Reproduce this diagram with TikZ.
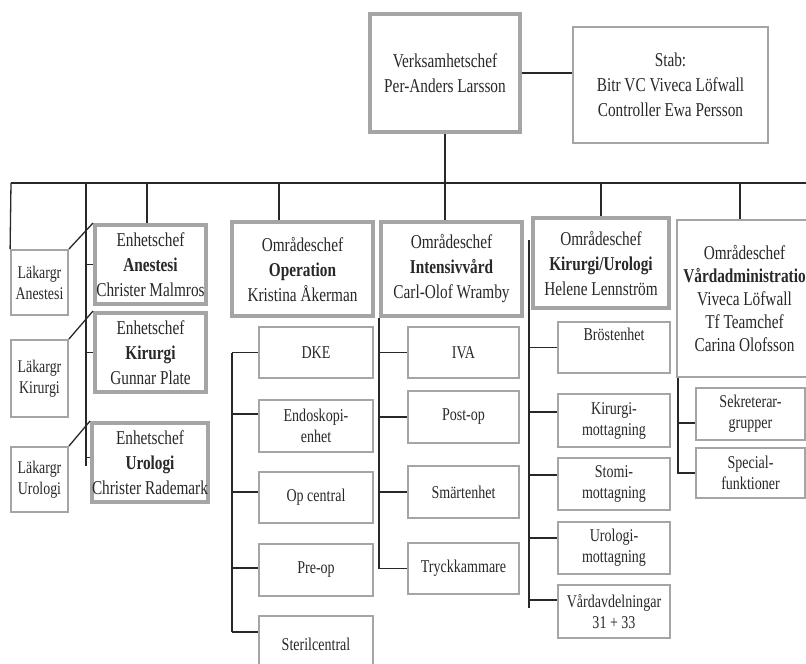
\documentclass[tikz,border=0pt]{standalone}
\usepackage{fontspec}
\setmainfont{Liberation Serif}[FakeStretch=0.78]
\definecolor{bordergray}{RGB}{165,165,165}
\definecolor{linecol}{RGB}{40,40,40}
\definecolor{txt}{RGB}{40,40,40}
\tikzset{
  base/.style={rectangle, inner sep=0pt, align=center, text=txt,
    font=\fontsize{19.6}{25}\selectfont},
  thickbox/.style={base, draw=bordergray, line width=4pt},
  thinbox/.style={base, draw=bordergray, line width=1.8pt},
  subbox/.style={thinbox, font=\fontsize{18}{21}\selectfont},
  lakbox/.style={thinbox, font=\fontsize{17.8}{21}\selectfont},
  link/.style={draw=linecol, line width=1.3pt},
}
\begin{document}
\begin{tikzpicture}[x=1pt,y=-1pt]
\useasboundingbox (0,0) rectangle (806,664);
\clip (0,0) rectangle (806,664);

% top management
\node[thickbox, minimum width=150pt, minimum height=118pt] (vc) at (445,73)
  {Verksamhetschef\\Per-Anders Larsson};
\node[thinbox, minimum width=195pt, minimum height=116pt] (stab) at (670.5,85)
  {Stab:\\Bitr VC Viveca Löfwall\\Controller Ewa Persson};

% unit heads (left)
\node[lakbox, minimum width=57pt, minimum height=65pt] (lakA) at (39.5,282.5) {Läkargr\\Anestesi};
\node[lakbox, minimum width=57pt, minimum height=77pt] (lakK) at (39.5,378.5) {Läkargr\\Kirurgi};
\node[lakbox, minimum width=57pt, minimum height=65pt] (lakU) at (39.5,479.5) {Läkargr\\Urologi};
\node[thickbox, minimum width=111pt, minimum height=79pt] (enA) at (150.5,264.5)
  {Enhetschef\\\textbf{Anestesi}\\Christer Malmros};
\node[thickbox, minimum width=111pt, minimum height=79pt] (enK) at (150.5,352.5)
  {Enhetschef\\\textbf{Kirurgi}\\Gunnar Plate};
\node[thickbox, minimum width=112pt, minimum height=79pt] (enU) at (150,462.5)
  {Enhetschef\\\textbf{Urologi}\\Christer Rademark};

% area heads
\node[thickbox, minimum width=141pt, minimum height=94pt] (opH) at (302.5,269)
  {Områdeschef\\\textbf{Operation}\\Kristina Åkerman};
\node[thickbox, minimum width=141pt, minimum height=94pt] (ivH) at (451.5,269)
  {Områdeschef\\\textbf{Intensivvård}\\Carl-Olof Wramby};
\node[thickbox, minimum width=136pt, minimum height=90pt] (kuH) at (601,263)
  {Områdeschef\\\textbf{Kirurgi/Urologi}\\Helene Lennström};
\node[thinbox, line width=2.2pt, minimum width=135pt, minimum height=157pt, font=\fontsize{19.6}{23}\selectfont] (vaH) at (744.5,298.5)
  {Områdeschef\\\textbf{Vårdadministratio}\\Viveca Löfwall\\Tf Teamchef\\Carina Olofsson};

% Operation units
\node[subbox, minimum width=114pt, minimum height=51pt] (dke) at (316,352.5) {DKE};
\node[subbox, minimum width=114pt, minimum height=52pt] (endo) at (316,426) {Endoskopi-\\enhet};
\node[subbox, minimum width=114pt, minimum height=51pt] (opc) at (316,497.5) {Op central};
\node[subbox, minimum width=114pt, minimum height=52pt] (preop) at (316,570) {Pre-op};
\node[subbox, minimum width=114pt, minimum height=56pt] (steril) at (316,644) {Sterilcentral};

% Intensive care units
\node[subbox, minimum width=111pt, minimum height=51pt] (iva) at (463.5,352.5) {IVA};
\node[subbox, minimum width=111pt, minimum height=52pt] (postop) at (463.5,417) {Post-op};
\node[subbox, minimum width=111pt, minimum height=52pt] (smart) at (463.5,492) {Smärtenhet};
\node[subbox, minimum width=111pt, minimum height=51pt] (tryck) at (463.5,568.5) {Tryckkammare};

% Surgery/urology units
\node[subbox, minimum width=112pt, minimum height=51pt] (brost) at (614,347.5) {Bröstenhet\\\strut};
\node[subbox, minimum width=112pt, minimum height=53pt] (kirm) at (614,420.5) {Kirurgi-\\mottagning};
\node[subbox, minimum width=112pt, minimum height=52pt] (stomi) at (614,484) {Stomi-\\mottagning};
\node[subbox, minimum width=112pt, minimum height=52pt] (urom) at (614,548) {Urologi-\\mottagning};
\node[subbox, minimum width=112pt, minimum height=53pt] (vard) at (614,611.5) {Vårdavdelningar\\31 +\ 33};

% Care administration units
\node[subbox, minimum width=109pt, minimum height=52pt] (sekr) at (750.5,414) {Sekreterar-\\grupper};
\node[subbox, minimum width=109pt, minimum height=50pt] (spec) at (750.5,473) {Special-\\funktioner};

% main bus
\coordinate (busL) at (11,183);
\coordinate (busR) at (812,183);
\coordinate (dEn) at (147,183);
\coordinate (barL) at (86,183);
\coordinate (dOp) at (279,183);
\coordinate (dVa) at (740,183);
\draw[link] (busL) -- (busR);
\draw[link] (vc.east) -- (vc.east -| stab.west);
\draw[link] (vc.south) -- (vc.south |- ivH.north);
\draw[link] (busL) -- (lakA.north west);
\draw[link] (dEn) -- (dEn |- enA.north);
\draw[link] (dOp) -- (dOp |- opH.north);
\draw[link] (kuH.north) -- (kuH.north |- busL);
\draw[link] (dVa) -- (dVa |- vaH.north);

% left group
\draw[link] (barL) -- ([yshift=-3pt]barL |- enU.west);
\draw[link] (barL |- enA.west) -- (enA.west);
\draw[link] (barL |- enK.west) -- (enK.west);
\draw[link] ([yshift=5pt]barL |- enU.west) -- ([yshift=5pt]enU.west);
\draw[link] (lakA.north east) -- (enA.north west);
\draw[link] (lakK.north east) -- (enK.north west);
\draw[link] (lakU.north east) -- (enU.north west);

% Operation branch
\draw[link] ([xshift=-26pt]dke.west) -- ([xshift=-26pt,yshift=12pt]steril.west);
\draw[link] (dke.west) -- ++(-26,0);
\draw[link] ([yshift=12pt]endo.west) -- ++(-26,0);
\draw[link] ([yshift=5.5pt]opc.west) -- ++(-26,0);
\draw[link] ([yshift=2pt]preop.west) -- ++(-26,0);
\draw[link] ([yshift=12pt]steril.west) -- ++(-26,0);

% Intensive care branch
\draw[link] (ivH.south west) -- (ivH.south west |- tryck.west) -- (tryck.west);
\draw[link] (ivH.south west |- iva.west) -- (iva.west);
\draw[link] (ivH.south west |- postop.west) -- (postop.west);
\draw[link] (ivH.south west |- smart.west) -- (smart.west);

% Surgery/urology branch
\coordinate (kuTop) at (529,240);
\coordinate (kuBot) at (529,608);
\draw[link] (kuTop) -- (kuBot);
\draw[link] (kuTop |- brost.west) -- (brost.west);
\draw[link] ([yshift=8.5pt]kirm.west) -- ([yshift=8.5pt]kirm.west -| kuTop);
\draw[link] ([yshift=9pt]stomi.west) -- ([yshift=9pt]stomi.west -| kuTop);
\draw[link] ([yshift=10pt]urom.west) -- ([yshift=10pt]urom.west -| kuTop);
\draw[link] ([yshift=11.5pt]vard.west) -- ([yshift=11.5pt]vard.west -| kuTop);

% Care administration branch
\draw[link] ([xshift=2pt]vaH.south west) -- ([xshift=2pt]vaH.south west |- spec.west) -- (spec.west);
\draw[link] ([yshift=-9pt]sekr.west) -- ([yshift=-9pt,xshift=2pt]sekr.west -| vaH.south west);
\end{tikzpicture}
\end{document}
